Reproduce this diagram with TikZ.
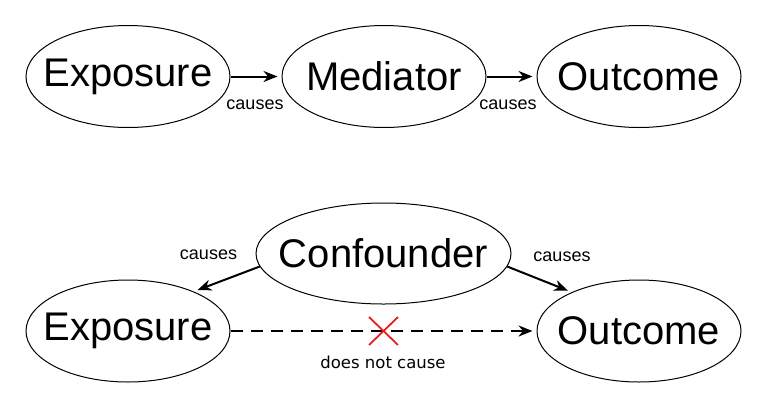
\documentclass[tikz,border=0pt]{standalone}
\usepackage{fontspec}
\setmainfont{Liberation Sans}
\newfontfamily\notefont{DejaVu Sans}
\usetikzlibrary{arrows.meta, positioning, shapes.geometric, shapes.misc}
\definecolor{CrossRed}{RGB}{230, 30, 30}

\begin{document}
\begin{tikzpicture}[x=1pt, y=-1pt, line width=1pt,
    var/.style={draw, ellipse, inner xsep=-40pt, inner ysep=0pt, minimum width=204pt, minimum height=102pt, font=\fontsize{40}{46}\selectfont},
    link/.style={-{Stealth[length=14pt, width=11pt]}, line width=2pt, shorten >=4pt},
    lbl/.style={inner sep=0pt, font=\fontsize{18}{20}\selectfont}]
    \useasboundingbox (0,0) rectangle (768,408);
    % mediation
    \node[var] (exp1) at (128,76.5) {Exposure};
    \node[var] (med) at (384,76.5) {Mediator};
    \node[var] (out1) at (639,76.5) {Outcome};
    \draw[link] (exp1) -- (med);
    \draw[link] (med) -- (out1);
    \node[lbl] (c1) at (255,104.5) {causes};
    \node[lbl] (c2) at (508,104.5) {causes};
    % confounding
    \node[var, minimum width=255pt, minimum height=101pt] (conf) at (383.5,253.5) {Confounder};
    \node[var] (exp2) at (128,331) {Exposure};
    \node[var] (out2) at (639,331) {Outcome};
    \draw[link] (conf.186) -- (exp2.31);
    \draw[link] (conf.354) -- (out2.150);
    \draw[link, dash pattern=on 12pt off 8pt] (exp2) -- (out2);
    \node[cross out, draw=CrossRed, line width=1.8pt, inner sep=0pt, minimum width=27pt, minimum height=26pt] (nocause) at (383.5,331) {};
    \node[lbl] (c3) at (208.5,255) {causes};
    \node[lbl] (c4) at (562,257) {causes};
    \node[inner sep=0pt, font=\notefont\fontsize{16.5}{19}\selectfont] (c5) at (383,362.5) {does not cause};
\end{tikzpicture}
\end{document}
